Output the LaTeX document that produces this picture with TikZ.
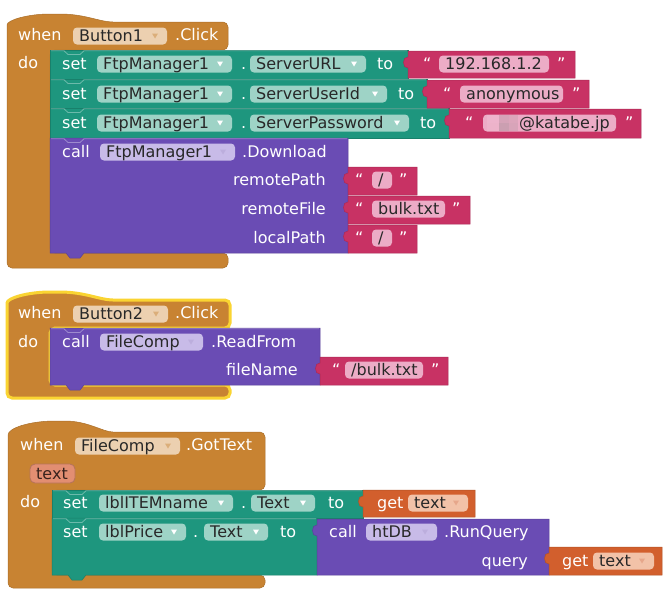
\documentclass[tikz,border=0pt]{standalone}
\usepackage{fontspec}
\setmainfont{DejaVu Sans}
\definecolor{evt}{RGB}{200,131,50}
\definecolor{evtpill}{RGB}{236,208,176}
\definecolor{setc}{RGB}{30,150,126}
\definecolor{setpill}{RGB}{158,211,198}
\definecolor{callc}{RGB}{106,76,180}
\definecolor{callpill}{RGB}{200,187,232}
\definecolor{txtc}{RGB}{200,50,100}
\definecolor{txtpill}{RGB}{236,172,198}
\definecolor{getc}{RGB}{210,95,45}
\definecolor{getpill}{RGB}{242,194,168}
\definecolor{parc}{RGB}{226,142,114}
\definecolor{hilite}{RGB}{250,212,50}
\definecolor{pilltext}{RGB}{40,40,40}
\newcommand\blkfont{\fontsize{16}{19}\selectfont}
\tikzset{
  wl/.style={text=white, font=\blkfont, inner sep=0pt, anchor=base west},
  wr/.style={text=white, font=\blkfont, inner sep=0pt, anchor=base east},
  pl/.style={text=pilltext, font=\blkfont, inner sep=0pt, anchor=base west},
  edgeline/.style={line width=0.5pt},
  notchline/.style={draw=white, draw opacity=0.35, line width=0.8pt},
}
% label: name x yc text
\newcommand\wtxt[4]{\node[wl] (#1) at (#2,#3+5.8) {#4};}
\newcommand\wrtxt[4]{\node[wr] (#1) at (#2,#3+5.8) {#4};}
% pill with dropdown arrow: name x1 x2 yc fill arrowcolor text
\newcommand\pilld[7]{%
  \fill[#5, rounded corners=4pt] (#2,#4-8.5) rectangle (#3,#4+8.5);
  \node[pl] (#1) at (#2+6,#4+5.8) {#7};
  \fill[#6] (#3-15,#4-2.5) -- (#3-9,#4-2.5) -- (#3-12,#4+2.5) -- cycle;}
% pill without arrow: name x1 x2 yc fill text
\newcommand\pilln[6]{%
  \fill[#5, rounded corners=4pt] (#2,#4-8.5) rectangle (#3,#4+8.5);
  \node[pl] (#1) at (#2+6,#4+5.8) {#6};}
% value block with left plug: x1 x2 ytop ybot fill
\newcommand\valblk[5]{%
  \filldraw[fill=#5, draw=#5!85!black, edgeline] (#1,#3) -- (#2,#3) -- (#2,#4) -- (#1,#4) -- (#1,#3+17)
    .. controls (#1-6,#3+18) and (#1-6,#3+5) .. (#1,#3+6) -- cycle;}
\begin{document}
\begin{tikzpicture}[x=1pt,y=-1pt]
\fill[white] (0,0) rectangle (671,600);
\useasboundingbox (0,0) rectangle (671,600);

% ================= Block 1 =================
\filldraw[fill=evt, draw=evt!85!black, edgeline, rounded corners=5pt]
  (7,268) -- (7,30) .. controls (7,20) and (28,14) .. (55,14) .. controls (85,14) and (100,22) .. (118,22)
  -- (228,22) -- (228,50) -- (50,50) -- (50,253) -- (228,253) -- (228,268) -- cycle;
\filldraw[fill=setc, draw=setc!85!black, edgeline] (50,50) rectangle (408,79);
\filldraw[fill=setc, draw=setc!85!black, edgeline] (50,79) rectangle (427,108);
\filldraw[fill=setc, draw=setc!85!black, edgeline] (50,108) rectangle (449,138);
\filldraw[fill=callc, draw=callc!85!black, edgeline] (50,138) -- (348,138) -- (348,253) -- (84,253) -- (80,258) -- (70,258) -- (66,253) -- (50,253) -- cycle;
\foreach \yy/\xr in {50/408,79/427,108/449,138/348}{
  \draw[notchline] (51,\yy+0.8) -- (64,\yy+0.8) -- (68,\yy+4.5) -- (80,\yy+4.5) -- (84,\yy+0.8) -- (\xr-1,\yy+0.8);}
\valblk{408}{575}{51}{78}{txtc}
\valblk{427}{589}{80}{108}{txtc}
\valblk{449}{641}{109}{138}{txtc}
\valblk{348}{417}{167}{195}{txtc}
\valblk{348}{470}{196}{224}{txtc}
\valblk{348}{417}{225}{253}{txtc}

\wtxt{w1}{18}{35}{when}
\pilld{b1}{73}{167}{36}{evtpill}{evt!65!white}{Button1}
\wtxt{c1}{175}{35}{.Click}
\wtxt{do1}{18}{63}{do}
% row 1
\wtxt{s1}{62}{64}{set}
\pilld{f1}{97}{232}{64}{setpill}{white}{FtpManager1}
\wtxt{d1}{241}{64}{.}
\pilld{p1}{250}{366}{64}{setpill}{white}{ServerURL}
\wtxt{t1}{377}{64}{to}
\wtxt{qa1}{423}{64}{“}
\pilln{v1}{439}{549}{64}{txtpill}{192.168.1.2}
\wtxt{qb1}{557}{64}{”}
% row 2
\wtxt{s2}{62}{94}{set}
\pilld{f2}{97}{232}{94}{setpill}{white}{FtpManager1}
\wtxt{d2}{241}{94}{.}
\pilld{p2}{250}{387}{94}{setpill}{white}{ServerUserId}
\wtxt{t2}{398}{94}{to}
\wtxt{qa2}{443}{94}{“}
\pilln{v2}{460}{563}{94}{txtpill}{anonymous}
\wtxt{qb2}{572}{94}{”}
% row 3
\wtxt{s3}{62}{123}{set}
\pilld{f3}{97}{232}{123}{setpill}{white}{FtpManager1}
\wtxt{d3}{241}{123}{.}
\pilld{p3}{250}{409}{123}{setpill}{white}{ServerPassword}
\wtxt{t3}{420}{123}{to}
\wtxt{qa3}{465}{123}{“}
\fill[txtpill, rounded corners=4pt] (483,114.5) rectangle (616,131.5);
\fill[txtpill!90!white] (487,115) rectangle (499,123);
\fill[txtpill!80!gray] (499,115) rectangle (509,123);
\fill[txtpill!85!gray] (509,115) rectangle (518,123);
\fill[txtpill!92!white] (487,123) rectangle (499,131);
\fill[txtpill!70!gray] (499,123) rectangle (509,131);
\fill[txtpill!82!gray] (509,123) rectangle (518,131);
\node[pl] (v3) at (519,128.8) {@katabe.jp};
\wtxt{qb3}{625}{123}{”}
% call download
\wtxt{k1}{62}{152}{call}
\pilld{f4}{100}{235}{152}{callpill}{callc!45!white}{FtpManager1}
\wtxt{dl}{242}{152}{.Download}
\wrtxt{rp}{326}{180}{remotePath}
\wrtxt{rf}{326}{209}{remoteFile}
\wrtxt{lp}{326}{238}{localPath}
\wtxt{qa4}{355}{180}{“}
\pilln{v4}{372}{392}{180}{txtpill}{/}
\wtxt{qb4}{399}{180}{”}
\wtxt{qa5}{355}{209}{“}
\pilln{v5}{372}{445}{209}{txtpill}{bulk.txt}
\wtxt{qb5}{452}{209}{”}
\wtxt{qa6}{355}{238}{“}
\pilln{v6}{372}{392}{238}{txtpill}{/}
\wtxt{qb6}{399}{238}{”}

% ================= Block 2 =================
\filldraw[fill=evt, draw=hilite, line width=3pt, rounded corners=5pt]
  (7,398) -- (7,308) .. controls (7,298) and (28,292) .. (55,292) .. controls (85,292) and (100,300) .. (118,300)
  -- (230,300) -- (230,328) -- (50,328) -- (50,385) -- (230,385) -- (230,398) -- cycle;
\filldraw[fill=callc, draw=callc!85!black, edgeline] (50,328) -- (320,328) -- (320,385) -- (84,385) -- (80,390) -- (70,390) -- (66,385) -- (50,385) -- cycle;
\draw[notchline] (51,328.8) -- (64,328.8) -- (68,332.5) -- (80,332.5) -- (84,328.8) -- (319,328.8);
\valblk{320}{448}{357}{385}{txtc}
\wtxt{w2}{18}{313}{when}
\pilld{b2}{73}{168}{314}{evtpill}{evt!65!white}{Button2}
\wtxt{c2}{175}{313}{.Click}
\wtxt{do2}{18}{342}{do}
\wtxt{k2}{62}{342}{call}
\pilld{fc1}{100}{203}{342}{callpill}{callc!45!white}{FileComp}
\wtxt{rd}{211}{342}{.ReadFrom}
\wrtxt{fn}{298}{370}{fileName}
\wtxt{qa7}{332}{370}{“}
\pilln{v7}{345}{423}{370}{txtpill}{/bulk.txt}
\wtxt{qb7}{431}{370}{”}

% ================= Block 3 =================
\filldraw[fill=evt, draw=evt!85!black, edgeline, rounded corners=5pt]
  (8,588) -- (8,440) .. controls (8,428) and (30,421) .. (60,421) .. controls (88,421) and (103,432) .. (118,432)
  -- (265,432) -- (265,490) -- (52,490) -- (52,575) -- (265,575) -- (265,588) -- cycle;
\filldraw[fill=setc, draw=setc!85!black, edgeline] (52,490) rectangle (363,518);
\filldraw[fill=setc, draw=setc!85!black, edgeline] (52,518) -- (317,518) -- (317,575) -- (86,575) -- (82,580) -- (72,580) -- (68,575) -- (52,575) -- cycle;
\foreach \yy/\xr in {490/363,518/317}{
  \draw[notchline] (53,\yy+0.8) -- (66,\yy+0.8) -- (70,\yy+4.5) -- (82,\yy+4.5) -- (86,\yy+0.8) -- (\xr-1,\yy+0.8);}
\valblk{363}{475}{490}{517}{getc}
\valblk{317}{549}{519}{575}{callc}
\valblk{549}{662}{547}{575}{getc}

\wtxt{w3}{20}{445}{when}
\pilld{fc2}{75}{180}{446}{evtpill}{evt!65!white}{FileComp}
\wtxt{gt}{186}{445}{.GotText}
\filldraw[fill=parc, draw=parc!80!black, line width=0.8pt, rounded corners=5pt] (30,464) rectangle (75,483);
\node[pl, text=black!75!parc] (par) at (36,473.5+5.8) {text};
\wtxt{do3}{20}{502}{do}
% row 1
\wtxt{s4}{63}{503}{set}
\pilld{l1}{99}{233}{503}{setpill}{white}{lblITEMname}
\wtxt{d4}{241}{503}{.}
\pilld{tx1}{251}{315}{503}{setpill}{white}{Text}
\wtxt{t4}{328}{503}{to}
\wtxt{g1}{377}{503}{get}
\pilld{gv1}{408}{468}{503}{getpill}{getc!55!white}{text}
% row 2
\wtxt{s5}{63}{532}{set}
\pilld{l2}{99}{186}{532}{setpill}{white}{lblPrice}
\wtxt{d5}{193}{532}{.}
\pilld{tx2}{204}{268}{532}{setpill}{white}{Text}
\wtxt{t5}{280}{532}{to}
\wtxt{k3}{329}{532}{call}
\pilld{ht}{366}{437}{532}{callpill}{callc!45!white}{htDB}
\wtxt{rq}{444}{532}{.RunQuery}
\wrtxt{qy}{528}{561}{query}
\wtxt{g2}{562}{561}{get}
\pilld{gv2}{593}{654}{561}{getpill}{getc!55!white}{text}
\end{tikzpicture}
\end{document}
